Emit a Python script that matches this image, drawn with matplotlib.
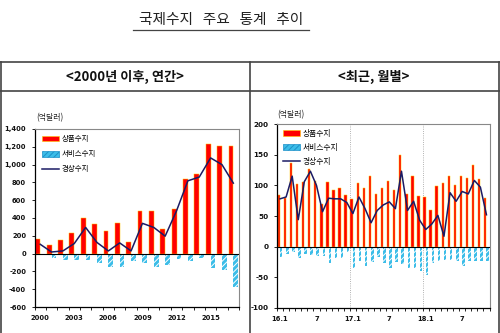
import numpy as np
import matplotlib
matplotlib.use('Agg')
import matplotlib.pyplot as plt
from matplotlib.patches import Patch
from matplotlib.lines import Line2D

plt.rcParams['font.family'] = ['Noto Sans CJK KR', 'DejaVu Sans']
plt.rcParams['hatch.linewidth'] = 0.7

# annual data (억달러), 2000-2017
years = list(range(2000, 2018))
goods_annual = [159, 102, 151, 227, 395, 329, 253, 341, 125, 484, 480, 276,
                500, 840, 895, 1235, 1205, 1210]
services_annual = [-19, -45, -76, -68, -68, -106, -151, -151, -83, -106, -151, -132,
                   -64, -83, -45, -159, -181, -370]
current_annual = [105, 18, 30, 113, 294, 125, 30, 120, 30, 340, 294, 196,
                  480, 818, 860, 1075, 1000, 792]
year_ticks = ['2000', '2003', '2006', '2009', '2012', '2015']

# monthly data (억달러), 2016.1-2018.11
goods_monthly = [85, 80, 136, 102, 106, 126, 107, 70, 106, 92, 96, 85,
                 78, 104, 95, 116, 86, 95, 107, 92, 150, 86, 115, 83,
                 81, 60, 99, 104, 115, 101, 115, 112, 133, 110, 80]
services_monthly = [-17, -12, -8, -19, -12, -14, -15, -15, -27, -19, -19, -8,
                    -34, -23, -31, -25, -17, -26, -34, -25, -28, -35, -34, -39,
                    -46, -26, -23, -22, -22, -23, -31, -23, -24, -23, -23]
current_monthly = [78, 81, 115, 44, 106, 123, 100, 57, 79, 78, 78, 72,
                   54, 81, 62, 39, 59, 68, 73, 62, 123, 59, 74, 43,
                   28, 37, 51, 17, 88, 74, 90, 86, 108, 97, 52]
month_ticks = ['16.1', '7', '17.1', '7', '18.1', '7']

series_names = ['상품수지', '서비스수지', '경상수지']

RED = '#FF0000'
GOLD = '#FFC800'
BLUE = '#3CBDE8'
NAVY = '#1B1B64'
GRID = '#444444'

W, H = 500, 333
fig = plt.figure(figsize=(W / 100, H / 100), dpi=100)


def px_axes(left, top, right, bottom):
    return fig.add_axes([left / W, 1 - bottom / H, (right - left) / W, (bottom - top) / H])


def px_line(x0, y0, x1, y1, **kw):
    fig.add_artist(Line2D([x0 / W, x1 / W], [1 - y0 / H, 1 - y1 / H],
                          transform=fig.transFigure, **kw))


def draw_panel(ax, goods, services, current, width, tick_pos, tick_labels,
               leg_xy, leg_size, leg_space):
    x = np.arange(len(goods))
    ax.bar(x - width / 2, goods, width, color=RED, edgecolor=GOLD, linewidth=0.35, zorder=2)
    ax.bar(x + width / 2, services, width, color=BLUE, edgecolor='white',
           hatch='//////', linewidth=0, zorder=2)
    ax.plot(x, current, color=NAVY, linewidth=1.1, zorder=3)
    ax.axhline(0, color='black', linewidth=0.8, zorder=4)
    ax.set_xlim(-0.5, len(goods) - 0.5)

    for side in ['left', 'bottom']:
        ax.spines[side].set_color('black')
        ax.spines[side].set_linewidth(0.9)
    for side in ['top', 'right']:
        ax.spines[side].set_color('#888888')
        ax.spines[side].set_linewidth(0.8)

    ax.set_xticks(tick_pos)
    ax.set_xticklabels(tick_labels)
    ax.set_xticks(np.arange(-0.5, len(goods), 1), minor=True)
    ax.tick_params(axis='x', which='major', length=0, pad=6)
    ax.tick_params(axis='x', which='minor', length=2, width=0.6, direction='out')
    ax.tick_params(axis='y', length=2, width=0.6, pad=4)
    for lab in ax.get_xticklabels() + ax.get_yticklabels():
        lab.set_fontfamily('DejaVu Sans')
        lab.set_fontweight('bold')
        lab.set_fontsize(4.9)
        lab.set_color('#111111')

    handles = [Patch(facecolor=RED, edgecolor=GOLD, linewidth=0.4),
               Patch(facecolor=BLUE, edgecolor='#1E90C8', hatch='//////', linewidth=0.5),
               Line2D([], [], color=NAVY, linewidth=1.1)]
    ax.legend(handles, series_names, loc='upper left', bbox_to_anchor=leg_xy,
              frameon=False, fontsize=leg_size, handlelength=2.2, handleheight=0.8,
              handletextpad=0.35, labelspacing=leg_space, borderaxespad=0, borderpad=0)


# left panel: annual
ax1 = px_axes(34.5, 129, 239, 307)
draw_panel(ax1, goods_annual, services_annual, current_annual, 0.42,
           [0, 3, 6, 9, 12, 15], year_ticks, (0.037, 0.965), 5.4, 0.95)
ax1.set_ylim(-600, 1400)
ax1.set_yticks(range(-600, 1401, 200))
ax1.set_yticklabels([f'{v:,}' for v in range(-600, 1401, 200)],
                    fontfamily='DejaVu Sans', fontweight='bold', fontsize=4.9)

# right panel: monthly
ax2 = px_axes(277, 124, 489.5, 308)
draw_panel(ax2, goods_monthly, services_monthly, current_monthly, 0.4,
           [0, 6, 12, 18, 24, 30], month_ticks, (0.028, 0.97), 5.6, 0.8)
ax2.set_ylim(-100, 200)
ax2.set_yticks(range(-100, 201, 50))
ax2.set_yticklabels([str(v) for v in range(-100, 201, 50)],
                    fontfamily='DejaVu Sans', fontweight='bold', fontsize=5.2)
for xv in [11.5, 23.5]:
    ax2.axvline(xv, color='#999999', linestyle=':', linewidth=0.6, zorder=1)

# unit labels
fig.text(36 / W, 1 - 118 / H, '(억달러)', fontsize=5.7, ha='left', va='center', color='#222222')
fig.text(277 / W, 1 - 115 / H, '(억달러)', fontsize=5.7, ha='left', va='center', color='#222222')

# title with underline
fig.text(221 / W, 1 - 20 / H, '국제수지   주요   통계   추이', fontsize=10.6,
         ha='center', va='center', color='#222222')
px_line(133, 30, 309, 30, color='#444444', linewidth=0.9)

# table frame and headers
px_line(0, 61.7, 500, 61.7, color=GRID, linewidth=1.2)
px_line(0, 90.7, 500, 90.7, color=GRID, linewidth=1.2)
px_line(0.8, 61.7, 0.8, 333, color=GRID, linewidth=1.2)
px_line(499.2, 61.7, 499.2, 333, color=GRID, linewidth=1.2)
px_line(250, 61.7, 250, 333, color=GRID, linewidth=1.2)
fig.text(125 / W, 1 - 76.5 / H, '<2000년 이후, 연간>', fontsize=9.5, fontweight='bold',
         ha='center', va='center', color='#111111')
fig.text(374 / W, 1 - 76.5 / H, '<최근, 월별>', fontsize=9.5, fontweight='bold',
         ha='center', va='center', color='#111111')

fig.savefig('out.png', dpi=100)
